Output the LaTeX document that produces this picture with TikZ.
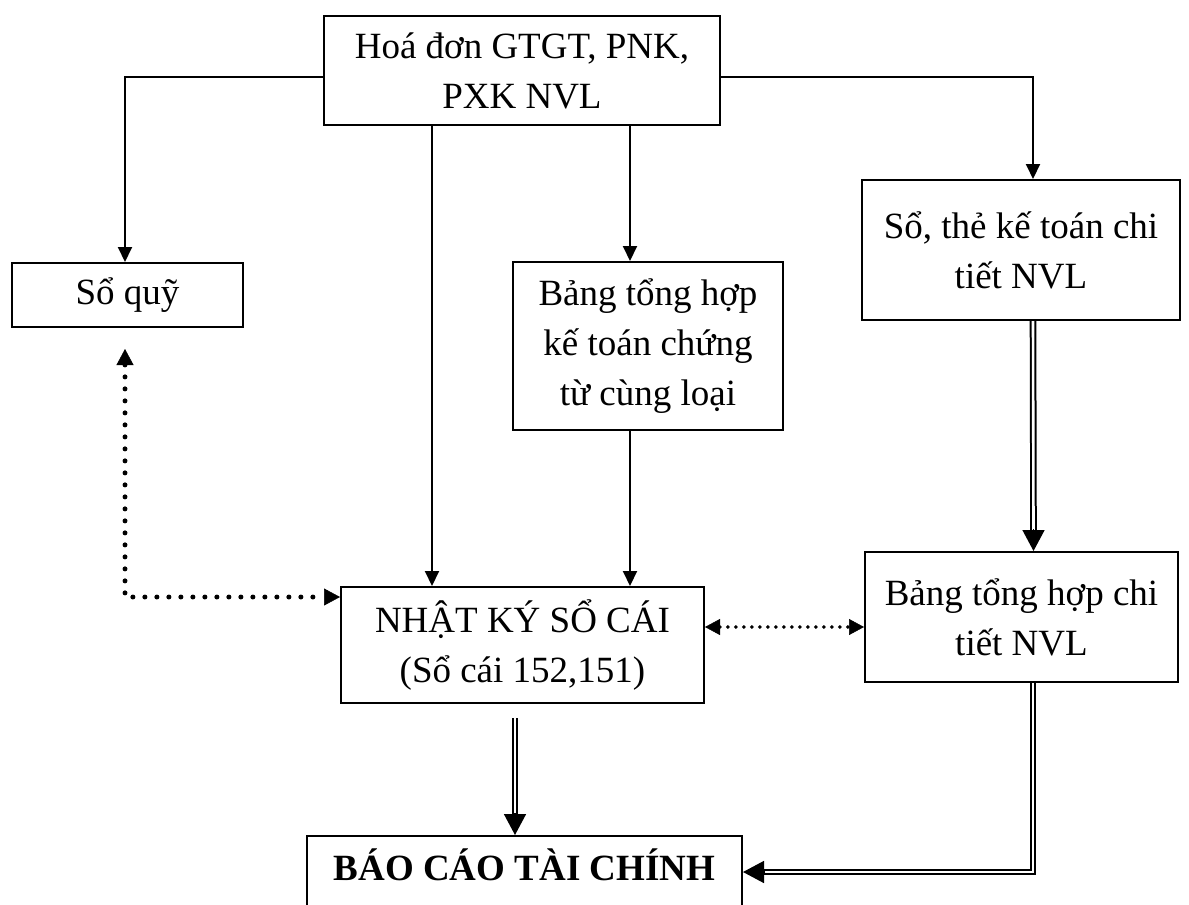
\documentclass[tikz,border=0pt]{standalone}
\usepackage{fontspec}
\setmainfont{Liberation Serif}
\usetikzlibrary{arrows.meta}
\begin{document}
\begin{tikzpicture}[x=1pt,y=-1pt,
  box/.style={draw, line width=2pt, align=center, inner sep=0pt, font=\fontsize{37}{50}\selectfont},
  arr/.style={line width=2pt, -{Triangle[length=15pt,width=14pt]}},
  tip/.style={line width=1.5pt, -{Triangle[length=21pt,width=22pt]}},
  dbl/.style={double, double distance=2.6pt, line width=2pt},
  dotbig/.style={line width=5pt, line cap=round, dash pattern=on 0pt off 12pt,
    {Triangle[length=16pt,width=17pt,line width=0.5pt]}-{Triangle[length=16pt,width=17pt,line width=0.5pt]}},
  dotsmall/.style={line width=3.8pt, line cap=round, dash pattern=on 0pt off 8pt,
    {Triangle[length=15pt,width=16pt,line width=0.5pt]}-{Triangle[length=15pt,width=16pt,line width=0.5pt]}}
]
\useasboundingbox (0,0) rectangle (1189,905);
\clip (0,0) rectangle (1189,905);

\node[box, minimum width=396pt, minimum height=109pt] (top) at (522,70.5) {Hoá đơn GTGT, PNK,\\PXK NVL};
\node[box, minimum width=231pt, minimum height=64pt] (sq) at (127.5,295) {Sổ quỹ};
\node[box, minimum width=270pt, minimum height=168pt] (bang) at (648,346) {Bảng tổng hợp\\kế toán chứng\\từ cùng loại};
\node[box, minimum width=318pt, minimum height=140pt] (st) at (1021,250) {Sổ, thẻ kế toán chi\\tiết NVL};
\node[box, minimum width=363pt, minimum height=116pt] (nk) at (522.5,645) {NHẬT KÝ SỔ CÁI\\(Sổ cái 152,151)};
\node[box, minimum width=313pt, minimum height=130pt] (bth) at (1021.5,617) {Bảng tổng hợp chi\\tiết NVL};
\node[box, minimum width=435pt, text height=44pt, text depth=40pt, anchor=north] (bc) at (524.5,835) {\textbf{BÁO CÁO TÀI CHÍNH}};

% solid arrows from top box
\draw[arr] ([yshift=-6.5pt]top.west) -| ([xshift=-2.5pt]sq.north);
\draw[arr] ([yshift=-6.5pt]top.east) -| ([xshift=12pt]st.north);
\draw[arr] ([xshift=-90pt]top.south) -- ([xshift=-90pt]top.south |- nk.north);
\draw[arr] ([xshift=108pt]top.south) -- ([xshift=108pt]top.south |- bang.north);
\draw[arr] ([xshift=-18pt]bang.south) -- ([xshift=-18pt]bang.south |- nk.north);

% dotted arrows
\draw[dotbig] ([xshift=-2.5pt,yshift=-21pt]sq.south) |- ([yshift=-11pt]nk.north west);
\draw[dotsmall] ([yshift=18pt]nk.east) -- ([yshift=18pt]nk.east -| bth.west);

% double arrows
\draw[dbl] ([xshift=-7.5pt,yshift=-14pt]nk.south) -- ([xshift=-9.5pt,yshift=19pt]bc.north);
\draw[tip] ([xshift=-9.5pt,yshift=22pt]bc.north) -- ([xshift=-9.5pt]bc.north);

\draw[dbl] ([xshift=12pt]st.south) -- ([xshift=12pt,yshift=19pt]bth.north);
\draw[tip] ([xshift=12pt,yshift=22pt]bth.north) -- ([xshift=12pt]bth.north);

\draw[dbl] ([xshift=11.5pt]bth.south) |- ([xshift=19pt,yshift=-37pt]bc.north east);
\draw[tip] ([xshift=22pt,yshift=-37pt]bc.north east) -- ([yshift=-37pt]bc.north east);
\end{tikzpicture}
\end{document}
